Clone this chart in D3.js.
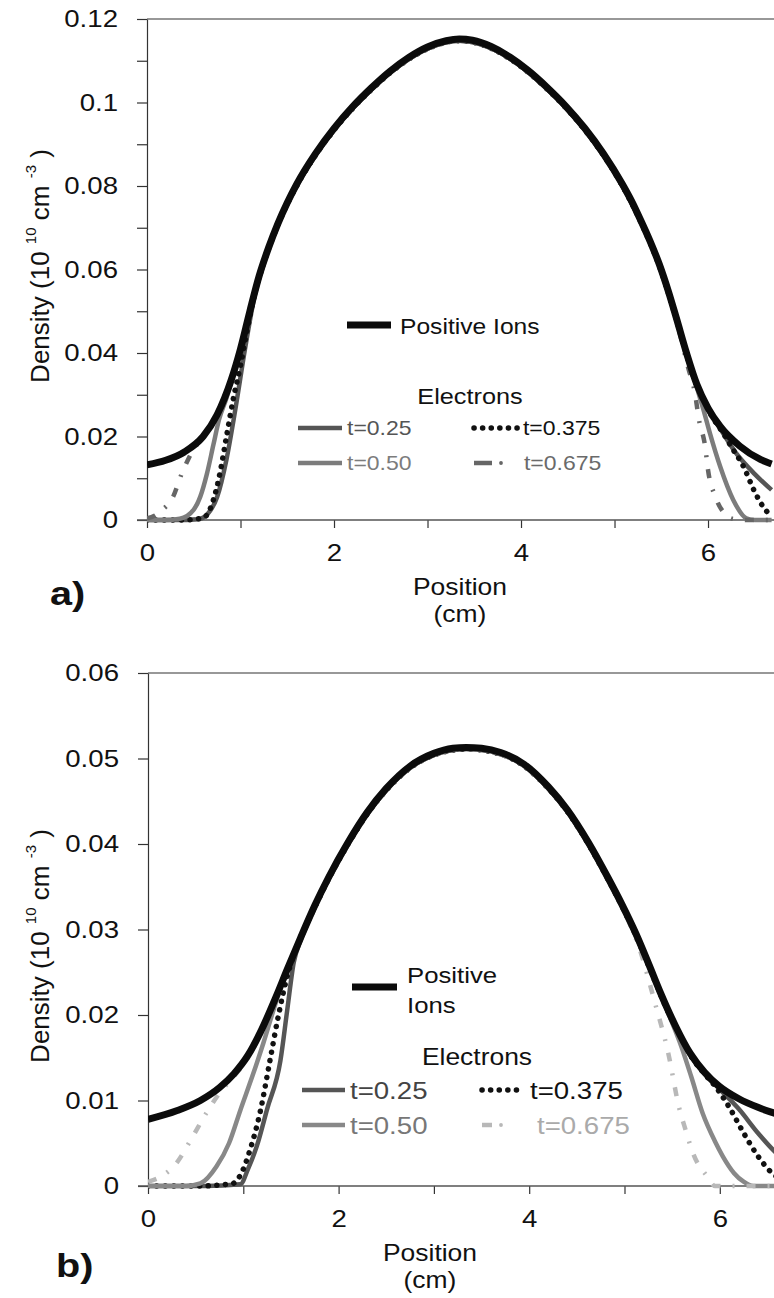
<!DOCTYPE html>
<html>
<head>
<meta charset="utf-8">
<script src="https://cdn.jsdelivr.net/npm/d3@7"></script>
<style>
  body { margin: 0; background: #fff; }
  svg { display: block; }
  text { font-family: "Liberation Sans", Arial, Helvetica, sans-serif; }
</style>
</head>
<body>
<svg id="fig" width="774" height="1298"></svg>
<script>
// ---------- data: density profiles, [position (cm), density (1e10 cm^-3)] ----------
const seriesNames = ["t=0.25", "t=0.375", "t=0.50", "t=0.675"];
const positionLabels = [0, 2, 4, 6];
const positionTicks = [0, 1, 2, 3, 4, 5, 6];
const densityTicksA = [0, 0.02, 0.04, 0.06, 0.08, 0.1, 0.12];
const densityMinorA = [0.01, 0.03, 0.05, 0.07, 0.09, 0.11];
const densityTicksB = [0, 0.01, 0.02, 0.03, 0.04, 0.05, 0.06];

// panel a)
const ionsA = [[0,0.0132],[0.2,0.0143],[0.4,0.0163],[0.6,0.0200],[0.75,0.0252],[0.9,0.0335],[1.0,0.0410],[1.1,0.0500],[1.2,0.0585],[1.3,0.0652],[1.4,0.0710],[1.5,0.0760],[1.6,0.0804],[1.8,0.0877],[2.0,0.0938],[2.2,0.0990],[2.4,0.1035],[2.6,0.1075],[2.8,0.1108],[3.0,0.1133],[3.2,0.1148],[3.34,0.1152],[3.48,0.1149],[3.68,0.1134],[3.88,0.1109],[4.08,0.1076],[4.28,0.1036],[4.48,0.0991],[4.68,0.0939],[4.88,0.0878],[5.08,0.0806],[5.18,0.0765],[5.28,0.0718],[5.38,0.0668],[5.48,0.0612],[5.58,0.0545],[5.66,0.0485],[5.77,0.0400],[5.88,0.0325],[6.0,0.0268],[6.13,0.0224],[6.34,0.0177],[6.56,0.0145],[6.68,0.0134]];
const elecA25 = [[0,0],[0.3,0],[0.55,0.0002],[0.65,0.0015],[0.75,0.0055],[0.85,0.0145],[0.95,0.0272],[1.05,0.0412],[1.15,0.0535],[1.25,0.0615],[1.4,0.0707],[1.6,0.0800],[1.8,0.0873],[2.0,0.0934],[2.2,0.0986],[2.4,0.1031],[2.6,0.1071],[2.8,0.1104],[3.0,0.1129],[3.34,0.1148],[3.68,0.1130],[3.88,0.1105],[4.08,0.1072],[4.28,0.1032],[4.48,0.0987],[4.68,0.0935],[4.88,0.0874],[5.08,0.0802],[5.28,0.0714],[5.48,0.0608],[5.66,0.0482],[5.77,0.0397],[5.88,0.0322],[6.0,0.0265],[6.1,0.0230],[6.3,0.0160],[6.5,0.0110],[6.68,0.0072]];
const elecA375 = [[0,0],[0.4,0],[0.6,0.0005],[0.71,0.0048],[0.78,0.0112],[0.85,0.0200],[0.92,0.0287],[1.0,0.0370],[1.08,0.0465],[1.15,0.0540],[1.25,0.0617],[1.4,0.0707],[1.6,0.0800],[1.8,0.0873],[2.0,0.0934],[2.2,0.0986],[2.4,0.1031],[2.6,0.1071],[2.8,0.1104],[3.0,0.1129],[3.34,0.1148],[3.68,0.1130],[3.88,0.1105],[4.08,0.1072],[4.28,0.1032],[4.48,0.0987],[4.68,0.0935],[4.88,0.0874],[5.08,0.0802],[5.28,0.0714],[5.48,0.0608],[5.66,0.0482],[5.77,0.0397],[5.88,0.0322],[6.05,0.0245],[6.15,0.0212],[6.27,0.0168],[6.38,0.0128],[6.49,0.0072],[6.58,0.0035],[6.68,0.0008]];
const elecA50 = [[0,0],[0.2,0],[0.35,0.0003],[0.5,0.0025],[0.57,0.0056],[0.64,0.0110],[0.71,0.0180],[0.77,0.0240],[0.85,0.0292],[0.9,0.0330],[1.0,0.0407],[1.1,0.0497],[1.2,0.0582],[1.4,0.0707],[1.6,0.0800],[1.8,0.0873],[2.0,0.0934],[2.2,0.0986],[2.4,0.1031],[2.6,0.1071],[2.8,0.1104],[3.0,0.1129],[3.34,0.1148],[3.68,0.1130],[3.88,0.1105],[4.08,0.1072],[4.28,0.1032],[4.48,0.0987],[4.68,0.0935],[4.88,0.0874],[5.08,0.0802],[5.28,0.0714],[5.48,0.0608],[5.66,0.0482],[5.77,0.0395],[5.88,0.0318],[5.95,0.0265],[6.02,0.0208],[6.13,0.0128],[6.27,0.0048],[6.41,0.0004],[6.5,0],[6.68,0]];
const elecA675 = [[0,0.0004],[0.08,0.0010],[0.15,0.0022],[0.28,0.0056],[0.37,0.0110],[0.44,0.0145],[0.5,0.0170],[0.6,0.0198],[0.75,0.0250],[0.9,0.0332],[1.0,0.0407],[1.1,0.0497],[1.2,0.0582],[1.4,0.0707],[1.6,0.0800],[1.8,0.0873],[2.0,0.0934],[2.2,0.0986],[2.4,0.1031],[2.6,0.1071],[2.8,0.1104],[3.0,0.1129],[3.34,0.1148],[3.68,0.1130],[3.88,0.1105],[4.08,0.1072],[4.28,0.1032],[4.48,0.0987],[4.68,0.0935],[4.88,0.0874],[5.08,0.0802],[5.28,0.0714],[5.48,0.0608],[5.58,0.0540],[5.7,0.0445],[5.79,0.0363],[5.86,0.0304],[5.9,0.0244],[5.97,0.0175],[6.0,0.0120],[6.08,0.0055],[6.18,0.0015],[6.26,0.0003],[6.4,0],[6.68,0]];

// panel b)
const ionsB = [[0,0.0078],[0.3,0.0088],[0.55,0.0100],[0.75,0.0115],[0.9,0.0131],[1.05,0.0153],[1.18,0.0180],[1.35,0.0223],[1.46,0.0253],[1.6,0.0290],[1.75,0.0328],[1.9,0.0362],[2.1,0.0402],[2.3,0.0437],[2.5,0.0465],[2.75,0.0491],[3.0,0.0506],[3.2,0.0512],[3.34,0.0513],[3.5,0.0512],[3.7,0.0507],[3.95,0.0493],[4.2,0.0467],[4.4,0.0440],[4.62,0.0402],[4.82,0.0362],[4.97,0.0330],[5.12,0.0295],[5.26,0.0258],[5.37,0.0228],[5.54,0.0186],[5.69,0.0155],[5.84,0.0133],[5.99,0.0117],[6.2,0.0102],[6.4,0.0092],[6.58,0.0085],[6.68,0.0082]];
const elecB25 = [[0,0],[0.6,0],[0.97,0.0002],[1.05,0.0020],[1.14,0.0046],[1.25,0.0090],[1.39,0.0147],[1.46,0.0205],[1.53,0.0262],[1.6,0.0287],[1.75,0.0326],[1.9,0.0360],[2.1,0.0400],[2.3,0.0435],[2.5,0.0463],[2.75,0.0489],[3.0,0.0504],[3.34,0.0511],[3.7,0.0505],[3.95,0.0491],[4.2,0.0465],[4.4,0.0438],[4.62,0.0400],[4.82,0.0360],[4.97,0.0328],[5.12,0.0293],[5.26,0.0256],[5.37,0.0226],[5.54,0.0184],[5.69,0.0153],[5.84,0.0131],[5.99,0.0114],[6.2,0.0090],[6.4,0.0062],[6.58,0.0040],[6.68,0.0030]];
const elecB375 = [[0,0],[0.55,0],[0.89,0.0003],[0.98,0.0015],[1.07,0.0042],[1.18,0.0088],[1.28,0.0147],[1.37,0.0200],[1.46,0.0245],[1.55,0.0276],[1.75,0.0326],[1.9,0.0360],[2.1,0.0400],[2.3,0.0435],[2.5,0.0463],[2.75,0.0489],[3.0,0.0504],[3.34,0.0511],[3.7,0.0505],[3.95,0.0491],[4.2,0.0465],[4.4,0.0438],[4.62,0.0400],[4.82,0.0360],[4.97,0.0328],[5.12,0.0293],[5.26,0.0256],[5.37,0.0226],[5.54,0.0184],[5.69,0.0153],[5.84,0.0131],[5.95,0.0117],[6.1,0.0092],[6.25,0.0062],[6.4,0.0035],[6.55,0.0015],[6.68,0.0006]];
const elecB50 = [[0,0],[0.4,0],[0.55,0.0003],[0.72,0.0023],[0.85,0.0050],[0.97,0.0089],[1.1,0.0130],[1.21,0.0167],[1.32,0.0207],[1.42,0.0241],[1.5,0.0264],[1.6,0.0288],[1.75,0.0326],[1.9,0.0360],[2.1,0.0400],[2.3,0.0435],[2.5,0.0463],[2.75,0.0489],[3.0,0.0504],[3.34,0.0511],[3.7,0.0505],[3.95,0.0491],[4.2,0.0465],[4.4,0.0438],[4.62,0.0400],[4.82,0.0360],[4.97,0.0328],[5.12,0.0293],[5.26,0.0256],[5.37,0.0226],[5.46,0.0202],[5.6,0.0162],[5.7,0.0128],[5.82,0.0085],[5.95,0.0052],[6.03,0.0035],[6.15,0.0015],[6.25,0.0005],[6.35,0],[6.68,0]];
const elecB675 = [[0,0.0005],[0.15,0.0012],[0.3,0.0027],[0.45,0.0054],[0.61,0.0085],[0.76,0.0110],[0.9,0.0128],[1.05,0.0150],[1.18,0.0178],[1.35,0.0221],[1.6,0.0288],[1.75,0.0326],[1.9,0.0360],[2.1,0.0400],[2.3,0.0435],[2.5,0.0463],[2.75,0.0489],[3.0,0.0504],[3.34,0.0511],[3.7,0.0505],[3.95,0.0491],[4.2,0.0465],[4.4,0.0438],[4.62,0.0400],[4.82,0.0360],[4.97,0.0328],[5.05,0.0308],[5.15,0.0280],[5.32,0.0214],[5.46,0.0155],[5.57,0.0093],[5.64,0.0066],[5.72,0.0038],[5.87,0.0011],[5.95,0],[6.68,0]];

// ---------- drawing ----------
const svg = d3.select("#fig");
const FONT = "'Liberation Sans', Arial, Helvetica, sans-serif";

// the lettering of this figure is set slightly wide
function widen(sel, k, origin) {
  sel.style("transform-box", "fill-box").style("transform-origin", origin)
     .style("transform", `scaleX(${k})`);
  return sel;
}

function drawPanel(o) {
  const g = svg.append("g");
  const x = d3.scaleLinear().domain([0, 6.68]).range([o.left, o.right]);
  const y = d3.scaleLinear().domain([0, o.ymax]).range([o.bottom, o.top]);

  // frame (top edge continues off the right side)
  g.append("line").attr("x1", o.left).attr("x2", 800).attr("y1", o.top).attr("y2", o.top)
    .attr("stroke", "#333").attr("stroke-width", 1.2);

  // y axis
  const yAxis = d3.axisLeft(y)
    .tickValues(o.yTicks.concat(o.yMinor))
    .tickSize(10).tickSizeOuter(0).tickPadding(19)
    .tickFormat(d => o.yTicks.includes(d) ? d3.format("~g")(d) : "");
  const ya = g.append("g").attr("transform", `translate(${o.left},0)`).call(yAxis);
  ya.select(".domain").attr("stroke", "#333").attr("stroke-width", 1.2);
  ya.selectAll(".tick line").attr("stroke", "#333").attr("stroke-width", 1.2);
  ya.selectAll("text").attr("font-size", 24).attr("font-family", FONT).attr("fill", "#111");
  widen(ya.selectAll("text"), 1.15, "right center");

  // x axis
  const xAxis = d3.axisBottom(x)
    .tickValues(positionTicks)
    .tickSize(8).tickSizeOuter(0).tickPadding(16)
    .tickFormat(d => positionLabels.includes(d) ? d : "");
  const xa = g.append("g").attr("transform", `translate(0,${o.bottom})`).call(xAxis);
  xa.select(".domain").remove();
  xa.selectAll(".tick line").attr("stroke", "#333").attr("stroke-width", 1.2);
  xa.selectAll("text").attr("font-size", 24).attr("font-family", FONT).attr("fill", "#111");
  widen(xa.selectAll("text"), 1.15, "center");
  g.append("line").attr("x1", o.left - 10).attr("x2", 800).attr("y1", o.bottom).attr("y2", o.bottom)
    .attr("stroke", "#555").attr("stroke-width", 1.6);

  // curves
  const line = d3.line().x(d => x(d[0])).y(d => y(d[1])).curve(d3.curveMonotoneX);
  const clipId = "clip" + o.id;
  svg.append("defs").append("clipPath").attr("id", clipId)
    .append("rect").attr("x", o.left).attr("y", o.top - 10).attr("width", 800).attr("height", o.bottom - o.top + 14);
  const cg = g.append("g").attr("clip-path", `url(#${clipId})`);
  o.electrons.forEach(s => {
    cg.append("path").datum(s.data).attr("d", line)
      .attr("fill", "none").attr("stroke", s.color).attr("stroke-width", s.width)
      .attr("stroke-dasharray", s.dash || null)
      .attr("stroke-linecap", s.cap || "butt").attr("stroke-linejoin", "round");
  });
  cg.append("path").datum(o.ions).attr("d", line)
    .attr("fill", "none").attr("stroke", "#0b0b0b").attr("stroke-width", 7)
    .attr("stroke-linejoin", "round");

  // axis titles
  ["Position", "(cm)"].forEach((t, i) => {
    const tt = g.append("text").attr("x", o.xTitleX).attr("y", o.bottom + 75 + i * 27)
      .attr("text-anchor", "middle").attr("font-size", 23)
      .attr("font-family", FONT).attr("fill", "#111").text(t);
    widen(tt, 1.15, "center");
  });

  const yt = g.append("text").attr("text-anchor", "middle").attr("font-size", 26)
    .attr("font-family", FONT).attr("fill", "#111")
    .attr("transform", `translate(${o.yTitleX},${o.yTitleY}) rotate(-90)`);
  yt.append("tspan").text("Density (10 ");
  yt.append("tspan").attr("font-size", 15).attr("dy", -13).text(" 10");
  yt.append("tspan").attr("dy", 13).text("  cm ");
  yt.append("tspan").attr("font-size", 15).attr("dy", -13).text(" -3");
  yt.append("tspan").attr("dy", 13).text("  )");

  const tag = g.append("text").attr("x", o.tagX).attr("y", o.tagY).attr("font-size", 33)
    .attr("font-weight", "bold").attr("font-family", FONT).attr("fill", "#111").text(o.tag);
  widen(tag, 1.2, "left center");

  // legend
  const L = o.legend;
  g.append("line").attr("x1", L.ionX1).attr("x2", L.ionX2).attr("y1", L.ionY).attr("y2", L.ionY)
    .attr("stroke", "#0b0b0b").attr("stroke-width", 7);
  L.ionLines.forEach((t, i) => {
    const it = g.append("text").attr("x", L.ionTextX).attr("y", L.ionTextY + i * 30)
      .attr("font-size", L.ionSize).attr("font-family", FONT).attr("fill", "#111").text(t);
    widen(it, 1.12, "left center");
  });
  const eh = g.append("text").attr("x", L.elecX).attr("y", L.elecY).attr("text-anchor", "middle")
    .attr("font-size", L.headSize).attr("font-family", FONT).attr("fill", "#111").text("Electrons");
  widen(eh, 1.15, "center");

  // key order: t=0.25 | t=0.375 / t=0.50 | t=0.675
  const slots = [[0, 0], [1, 0], [0, 1], [1, 1]];
  o.electrons.forEach((s, i) => {
    const cx = slots[i][0] === 0 ? L.col1 : L.col2;
    const cy = L.rowY[slots[i][1]];
    let tx;
    if (s.key === "dashdot") {
      g.append("line").attr("x1", cx).attr("x2", cx + L.dashLen).attr("y1", cy).attr("y2", cy)
        .attr("stroke", s.color).attr("stroke-width", s.width);
      g.append("circle").attr("cx", cx + L.dashLen + 9).attr("cy", cy).attr("r", 1.9).attr("fill", s.color);
      tx = cx + L.dashTextGap;
    } else {
      g.append("line").attr("x1", cx).attr("x2", cx + L.lineLen).attr("y1", cy).attr("y2", cy)
        .attr("stroke", s.color).attr("stroke-width", s.width)
        .attr("stroke-dasharray", s.dash || null).attr("stroke-linecap", s.cap || "butt");
      tx = cx + L.lineLen + 5;
    }
    const lt = g.append("text").attr("x", tx)
      .attr("y", cy + L.textDy).attr("font-size", L.size).attr("font-family", FONT)
      .attr("fill", s.textColor).text(seriesNames[i]);
    widen(lt, 1.15, "left center");
  });
}

drawPanel({
  id: "A", left: 147, right: 771.6, top: 19, bottom: 520, ymax: 0.12,
  yTicks: densityTicksA, yMinor: densityMinorA,
  ions: ionsA,
  electrons: [
    { data: elecA25, color: "#555", width: 4.5, textColor: "#555" },
    { data: elecA375, color: "#111", width: 5.5, dash: "0.1 8.5", cap: "round", textColor: "#111" },
    { data: elecA50, color: "#7c7c7c", width: 4.5, textColor: "#7c7c7c" },
    { data: elecA675, color: "#666", width: 4.5, dash: "9 12 2 12", key: "dashdot", textColor: "#6a6a6a" }
  ],
  xTitleX: 460, yTitleX: 49, yTitleY: 266, tag: "a)", tagX: 50, tagY: 605,
  legend: { ionX1: 347, ionX2: 391, ionY: 325, ionTextX: 400, ionTextY: 334, ionLines: ["Positive Ions"], ionSize: 22,
            elecX: 470, elecY: 404, headSize: 22, col1: 298, col2: 474, rowY: [428, 463],
            lineLen: 44, dashLen: 18, dashTextGap: 50, size: 20, textDy: 7 }
});

drawPanel({
  id: "B", left: 148, right: 784.6, top: 673, bottom: 1186, ymax: 0.06,
  yTicks: densityTicksB, yMinor: [],
  ions: ionsB,
  electrons: [
    { data: elecB25, color: "#555", width: 4.5, textColor: "#444" },
    { data: elecB375, color: "#111", width: 5.5, dash: "0.1 8.5", cap: "round", textColor: "#111" },
    { data: elecB50, color: "#888", width: 4.5, textColor: "#777" },
    { data: elecB675, color: "#b8b8b8", width: 4.5, dash: "9 12 2 12", key: "dashdot", textColor: "#aaa" }
  ],
  xTitleX: 430, yTitleX: 49, yTitleY: 946, tag: "b)", tagX: 56, tagY: 1277,
  legend: { ionX1: 352, ionX2: 397, ionY: 987, ionTextX: 407, ionTextY: 983, ionLines: ["Positive", "Ions"], ionSize: 23,
            elecX: 477, elecY: 1065, headSize: 23, col1: 302, col2: 482, rowY: [1090, 1125],
            lineLen: 43, dashLen: 10, dashTextGap: 55, size: 24, textDy: 9 }
});
</script>
</body>
</html>
